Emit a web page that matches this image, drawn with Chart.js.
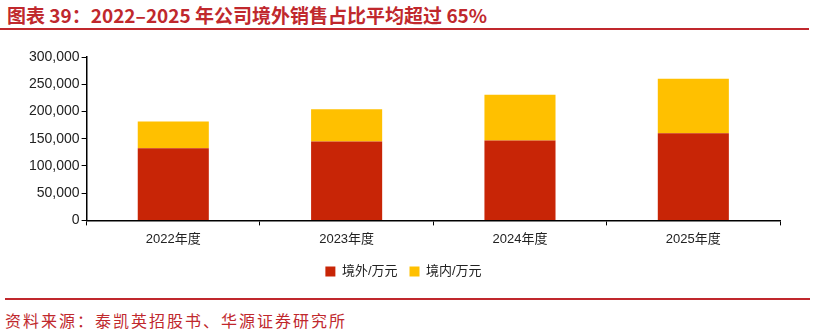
<!DOCTYPE html>
<html>
<head>
<meta charset="utf-8">
<script src="https://cdn.jsdelivr.net/npm/chart.js@4"></script>
<style>
  body { margin: 0; width: 815px; height: 333px; background: #fff; position: relative; overflow: hidden; font-family: "Noto Sans CJK SC", sans-serif; }
  .title { position: absolute; left: 7px; top: 1px; font-size: 19px; font-weight: bold; color: #c0282d; white-space: nowrap; }
  .rule { position: absolute; left: 0; width: 809px; height: 2px; background: #c0282d; }
  .source { position: absolute; left: 5px; top: 308px; font-size: 16px; letter-spacing: 2px; color: #c0282d; white-space: nowrap; }
  .wrap { position: absolute; left: 0; top: 38px; width: 800px; height: 250px; }
</style>
</head>
<body>
<div class="title">图表 39：2022–2025 年公司境外销售占比平均超过 65%</div>
<div class="rule" style="top:28px"></div>
<div class="wrap"><canvas id="c"></canvas></div>
<div class="rule" style="top:298px; left:5px; width:805px"></div>
<div class="source">资料来源：泰凯英招股书、华源证券研究所</div>
<script>
const years = ['2022年度', '2023年度', '2024年度', '2025年度']
const overseas = [132600, 144900, 146700, 160000]   // 境外/万元
const domestic = [49000, 59000, 84000, 100000]      // 境内/万元
const yTicks = [0, 50000, 100000, 150000, 200000, 250000, 300000]

const font = { family: '"Liberation Sans", "Noto Sans CJK SC", sans-serif', size: 14 }

new Chart(document.getElementById('c'), {
  type: 'bar',
  data: {
    labels: years,
    datasets: [
      { label: '境外/万元', data: overseas, backgroundColor: '#c82506' },
      { label: '境内/万元', data: domestic, backgroundColor: '#ffc000' },
    ]
  },
  options: {
    responsive: true,
    maintainAspectRatio: false,
    animation: false,
    layout: { padding: { left: 27, right: 20, top: 19, bottom: 0 } },
    datasets: { bar: { categoryPercentage: 0.41, barPercentage: 1 } },
    scales: {
      x: {
        stacked: true,
        border: { color: '#000', width: 1.5 },
        grid: { drawOnChartArea: false, color: '#000', tickLength: 5, offset: true },
        ticks: { color: '#222', font: { ...font, size: 13 }, padding: 6 }
      },
      y: {
        stacked: true,
        min: 0, max: 300000,
        afterBuildTicks: axis => { axis.ticks = yTicks.map(v => ({ value: v })) },
        border: { color: '#000', width: 1.5 },
        grid: { drawOnChartArea: false, color: '#000', tickLength: 5 },
        ticks: { color: '#222', font, padding: 2, callback: v => v.toLocaleString('en-US') }
      }
    },
    plugins: {
      legend: {
        position: 'bottom',
        labels: { boxWidth: 10, boxHeight: 10, color: '#222', font: { ...font, size: 13 }, padding: 12 }
      },
      tooltip: { enabled: false }
    }
  }
})
</script>
</body>
</html>
